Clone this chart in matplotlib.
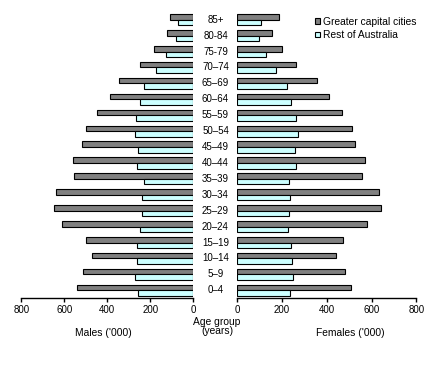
import matplotlib
matplotlib.use("Agg")
import matplotlib.pyplot as plt
from matplotlib.patches import Patch

plt.rcParams['font.family'] = ['Liberation Sans', 'DejaVu Sans']

# age groups, bottom to top
ages = ['0–4', '5–9', '10–14', '15–19', '20–24', '25–29', '30–34', '35–39', '40–44',
        '45–49', '50–54', '55–59', '60–64', '65–69', '70–74', '75-79', '80-84', '85+']

# males ('000)
males_gcc = [540, 512, 470, 498, 609, 647, 637, 553, 558, 516, 498, 447, 386, 344, 247, 181, 121, 107]
males_rest = [256, 270, 260, 260, 247, 237, 237, 228, 260, 256, 270, 265, 247, 228, 172, 126, 79, 70]
# females ('000)
females_gcc = [510, 483, 443, 474, 581, 644, 635, 559, 572, 528, 514, 469, 411, 358, 264, 201, 156, 188]
females_rest = [237, 250, 246, 241, 228, 232, 237, 232, 264, 259, 273, 264, 241, 224, 174, 130, 98, 107]

dark = '#808080'
light = '#ccffff'
W, H = 446, 368

fig = plt.figure(figsize=(W / 100, H / 100), dpi=100)
bottom = (H - 298.3) / H
height = (298.3 - 11.7) / H
axl = fig.add_axes([21.3 / W, bottom, 172 / W, height])
axr = fig.add_axes([237.3 / W, bottom, 179 / W, height])

y = list(range(len(ages)))
bh = 0.35
yg = [v + bh / 2 for v in y]
yr = [v - bh / 2 for v in y]

for ax, g, r in [(axl, males_gcc, males_rest), (axr, females_gcc, females_rest)]:
    ax.barh(yg, g, height=bh, color=dark, edgecolor='black', linewidth=0.8)
    ax.barh(yr, r, height=bh, color=light, edgecolor='black', linewidth=0.8)
    ax.set_ylim(-0.5, len(ages) - 0.5)
    ax.set_yticks([])
    for s in ['top', 'left', 'right']:
        ax.spines[s].set_visible(False)
    ax.spines['bottom'].set_linewidth(1.0)
    ax.set_xticks([0, 200, 400, 600, 800])
    ax.tick_params(axis='x', direction='out', length=3, width=1.0, labelsize=7, pad=2)

axl.set_xlim(800, 0)
axr.set_xlim(0, 800)

axl.set_xlabel("Males ('000)", fontsize=7.4)
axl.xaxis.set_label_coords(0.48, -0.104)
axr.set_xlabel("Females ('000)", fontsize=7.4)
axr.xaxis.set_label_coords(0.63, -0.104)

# age group labels between the two halves
for i, lab in enumerate(ages):
    fy = bottom + (i + 0.5) / len(ages) * height
    fig.text(215.5 / W, fy, lab, ha='center', va='center', fontsize=7)

fig.text(217 / W, 1 - 326.5 / H, 'Age group\n(years)', ha='center', va='center',
         fontsize=7.4, linespacing=0.85)

handles = [Patch(facecolor=dark, edgecolor='black', linewidth=0.8),
           Patch(facecolor=light, edgecolor='black', linewidth=0.8)]
fig.legend(handles, ['Greater capital cities', 'Rest of Australia'],
           loc='upper left', bbox_to_anchor=(315 / W, 1 - 17 / H), frameon=False,
           fontsize=7.4, handlelength=0.5, handleheight=0.5, handletextpad=0.3,
           labelspacing=0.3, borderpad=0, borderaxespad=0)

fig.savefig('out.png', dpi=100)
